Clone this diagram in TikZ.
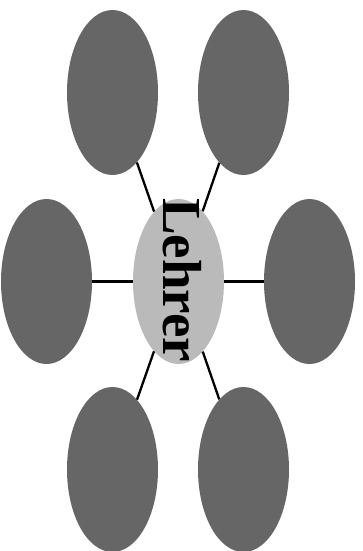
\documentclass[tikz,border=0pt]{standalone}
\usepackage{fontspec}
\setmainfont{Liberation Serif}
\usetikzlibrary{shapes.geometric,positioning}

\begin{document}
\begin{tikzpicture}[x=1pt,y=-1pt,
    outer/.style={ellipse, fill=black!60, minimum width=91pt, minimum height=165pt, inner sep=0pt},
    center/.style={ellipse, fill=black!27, minimum width=91pt, minimum height=165pt, inner sep=0pt},
    link/.style={line width=2.3pt}]
    \useasboundingbox (0,0) rectangle (362,551);

    \node[center] (lehrer) at (178.5, 281.5) {};
    \node[rotate=-90, font=\bfseries\fontsize{55}{55}\selectfont] (label) at (182, 280) {Lehrer};

    \node[outer] (tl) at (112.5, 92.5) {};
    \node[outer] (tr) at (243.5, 92.5) {};
    \node[outer] (ml) at (46.5, 281.5) {};
    \node[outer] (mr) at (309.5, 281.5) {};
    \node[outer] (bl) at (112.5, 469.5) {};
    \node[outer] (br) at (243.5, 469.5) {};

    \foreach \n in {tl,tr,ml,mr,bl,br}
        \draw[link] (lehrer) -- (\n);
\end{tikzpicture}
\end{document}
